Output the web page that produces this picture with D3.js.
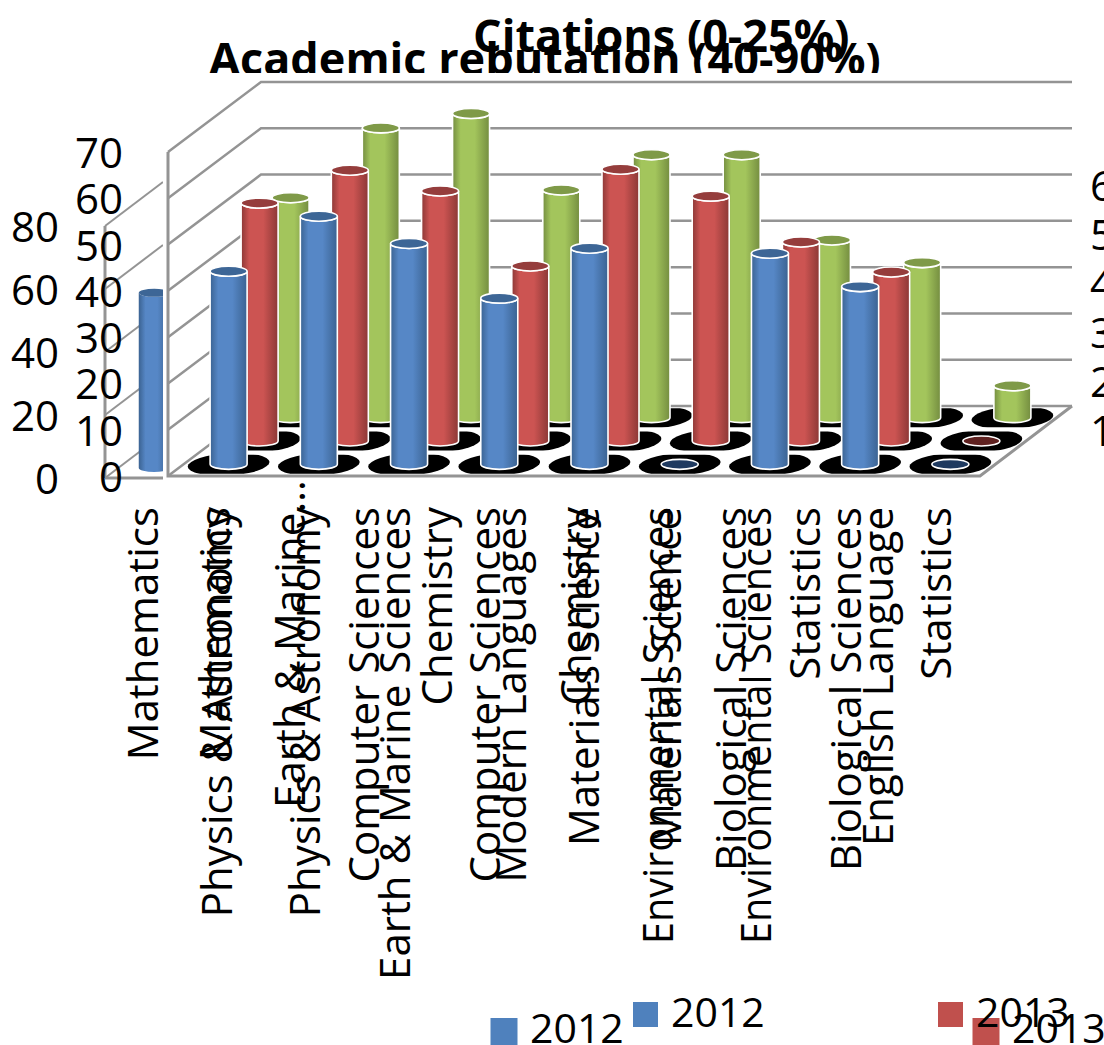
<!DOCTYPE html>
<html><head><meta charset="utf-8">
<style>
html,body{margin:0;padding:0;background:#fff;overflow:hidden}
text{font-family:"Open Sans",sans-serif;fill:#000}
</style>
<script src="https://cdn.jsdelivr.net/npm/d3@7/dist/d3.min.js"></script>
</head><body><svg id="c" width="1104" height="1045"></svg>
<script>
const mainCategories = ["Mathematics","Physics & Astronomy","Earth & Marine Sciences","Computer Sciences","Chemistry","Materials Science","Environmental Sciences","Biological Sciences","Statistics"];
const backCategories = ["Mathematics","Physics & Astronomy","Earth & Marine…","Computer Sciences","Chemistry","Modern Languages","Materials Science","Environmental Sciences","Biological Sciences","Statistics","English Language"];
const seriesNames = ["2012","2013","2014"];
const values2012 = [41.7,53.6,47.7,35.9,46.7,0,45.6,38.4,0];
const values2013 = [51.4,58.5,54,37.8,58.7,52.9,43,36.5,0];
const values2014 = [47.5,62.6,65.7,49.2,56.8,56.8,38.4,33.5,6.9];
const backValues2012 = [55.6];
const mainTicks = [0,10,20,30,40,50,60,70];
const backTicks = [0,20,40,60,80];
const rightTicks = [10,20,30,40,50,60];
const titleBack = "Citations (0-25%)";
const titleMain = "Academic rebutation (40-90%)";

const palette = {
 "2012":{edge:"#3b6392",mid:"#5687c6",top:"#3d6696",zero:"#1f3a60"},
 "2013":{edge:"#8c3836",mid:"#cc5452",top:"#953d3c",zero:"#5f2120"},
 "2014":{edge:"#748d40",mid:"#a3c55c",top:"#7f9a48",zero:"#4f6128"}
};
const gridColor="#949494";
const svg=d3.select("#c");
const defs=svg.append("defs");
seriesNames.forEach(s=>{
 const g=defs.append("linearGradient").attr("id","g"+s);
 [[0,palette[s].edge],[.22,palette[s].mid],[.6,palette[s].mid],[1,palette[s].edge]].forEach(([o,c])=>g.append("stop").attr("offset",o).attr("stop-color",c));
});
defs.append("clipPath").attr("id","clipBack").append("rect").attr("x",0).attr("y",0).attr("width",163).attr("height",1045);
defs.append("clipPath").attr("id","clipTitle").append("rect").attr("x",0).attr("y",0).attr("width",1104).attr("height",73);

function cyl(sel,cx,base,top,r,ry,s,outline){
 const p=sel.append("path")
  .attr("d",`M${cx-r},${top}V${base}A${r},${ry} 0 0 0 ${cx+r},${base}V${top}A${r},${ry} 0 0 1 ${cx-r},${top}Z`)
  .attr("fill",`url(#g${s})`);
 if(outline)p.attr("stroke","#fff").attr("stroke-width",1.6);
 const e=sel.append("ellipse").attr("cx",cx).attr("cy",top).attr("rx",r).attr("ry",ry).attr("fill",palette[s].top);
 if(outline)e.attr("stroke","#fff").attr("stroke-width",1.6);
}
function tickText(g){g.select(".domain").remove();g.selectAll("line").remove();g.selectAll("text").style("font-size","42px");}

/* ---------- back chart ---------- */
const xBack=d3.scaleBand().domain(backCategories).range([105,913.5]);
const yBack=d3.scaleLinear().domain([0,80]).range([478,226]);
const back=svg.append("g");
const bd={dx:58,dy:44};
back.append("g").selectAll("line").data(backTicks).join("line")
 .attr("x1",105).attr("y1",d=>yBack(d)).attr("x2",105+bd.dx).attr("y2",d=>yBack(d)-bd.dy)
 .attr("stroke",gridColor).attr("stroke-width",2);
back.append("line").attr("x1",105).attr("x2",105).attr("y1",yBack(80)).attr("y2",yBack(0)).attr("stroke",gridColor).attr("stroke-width",3);
back.append("line").attr("x1",105).attr("x2",163).attr("y1",yBack(0)).attr("y2",yBack(0)).attr("stroke",gridColor).attr("stroke-width",3);
const backBars=back.append("g").attr("clip-path","url(#clipBack)");
backValues2012.forEach((v,i)=>{
 const cx=xBack(backCategories[i])+xBack.bandwidth()/2+12.5;
 const zeroY=yBack(0)-10;
 cyl(backBars,cx,zeroY,zeroY-(yBack(0)-yBack(v)),15.5,4,"2012",false);
});
svg.append("g").attr("transform","translate(59,2)").call(d3.axisLeft(yBack).tickValues(backTicks).tickFormat(d3.format("d")).tickSize(0).tickPadding(0)).call(tickText);

/* ---------- main chart ---------- */
svg.append("rect").attr("x",163).attr("y",73).attr("width",941).attr("height",405).attr("fill","#fff");
const xMain=d3.scaleBand().domain(mainCategories).range([168,980]);
const yMain=d3.scaleLinear().domain([0,70]).range([476,152]);
const depth=d3.scaleBand().domain(seriesNames).range([0,1]);
const wall={dx:93,dy:70};
const main=svg.append("g");
main.append("path").attr("d",`M168,${yMain(70)}V${yMain(0)}H980L${168+904},${yMain(0)-wall.dy}`)
 .attr("fill","none").attr("stroke",gridColor).attr("stroke-width",3);
main.append("g").selectAll("path").data(mainTicks).join("path")
 .attr("d",d=>`M168,${yMain(d)}L${168+wall.dx},${yMain(d)-wall.dy}H1072`)
 .attr("fill","none").attr("stroke",gridColor).attr("stroke-width",2.5);
const valuesBySeries={"2012":values2012,"2013":values2013,"2014":values2014};
const pos=(cat,s)=>{
 const f=depth(s)+depth.bandwidth()/2;
 return {cx:xMain(cat)+xMain.bandwidth()/2+wall.dx*f,base:yMain(0)-wall.dy*f};
};
const floor=main.append("g");
seriesNames.slice().reverse().forEach(s=>{
 const rowY=pos(mainCategories[0],s).base;
 defs.append("clipPath").attr("id","row"+s).append("rect")
  .attr("x",0).attr("width",1104).attr("y",rowY-9.5).attr("height",19);
 floor.append("g").attr("clip-path",`url(#row${s})`).selectAll("ellipse").data(mainCategories).join("ellipse")
  .attr("transform",c=>{const p=pos(c,s);return `translate(${p.cx},${p.base}) skewX(-35)`;})
  .attr("rx",40).attr("ry",11.5).attr("fill","#000");
});
seriesNames.slice().reverse().forEach(s=>{
 const g=main.append("g");
 mainCategories.forEach((c,i)=>{
  const p=pos(c,s), v=valuesBySeries[s][i];
  if(v===0){
   g.append("ellipse").attr("cx",p.cx).attr("cy",p.base).attr("rx",18.5).attr("ry",5)
    .attr("fill",palette[s].zero).attr("stroke","#fff").attr("stroke-width",1.6);
  } else {
   cyl(g,p.cx,p.base,p.base-(yMain(0)-yMain(v)),18.5,5,s,true);
  }
 });
});
svg.append("g").attr("transform","translate(123,2)").call(d3.axisLeft(yMain).tickValues(mainTicks).tickFormat(d3.format("d")).tickSize(0).tickPadding(0)).call(tickText);

/* third clipped axis */
const yRight=d3.scaleLinear().domain([0,60]).range([479,185]);
svg.append("g").attr("transform","translate(1090,2)")
 .call(d3.axisRight(yRight).tickValues(rightTicks).tickFormat(d3.format("d")).tickSize(0).tickPadding(0)).call(tickText);

/* category labels */
const narrowLabel="Environmental Sciences";
function catAxis(scale){
 return g=>{
  g.call(d3.axisBottom(scale).tickSize(0));
  g.select(".domain").remove();
  g.selectAll("text").style("font-size","42px").attr("y",null).attr("dy",null)
   .attr("text-anchor","end")
   .attr("transform",d=>`translate(16.5,${String(d).endsWith("…")?-27:0}) rotate(-90)`)
   .filter(d=>d===narrowLabel).attr("textLength",437).attr("lengthAdjust","spacingAndGlyphs");
 };
}
svg.append("g").attr("transform","translate(0,507)").call(catAxis(xBack));
svg.append("g").attr("transform","translate(0,507)").call(catAxis(xMain));

/* titles */
svg.append("text").attr("x",473).attr("y",52).attr("font-weight",700).style("font-size","45px").text(titleBack);
svg.append("g").attr("clip-path","url(#clipTitle)").append("text").attr("x",209).attr("y",75).attr("font-weight",700).style("font-size","45px").text(titleMain);

/* legends */
const legendItems=[
 {s:"2012",x:490.5,y:1018,size:27,tx:530,ty:1043},
 {s:"2013",x:972.5,y:1018,size:27,tx:1012,ty:1043},
 {s:"2012",x:633,y:1002,size:25,tx:671,ty:1027},
 {s:"2013",x:938,y:1002,size:25,tx:976,ty:1027}
];
const lg=svg.append("g");
lg.selectAll("rect").data(legendItems).join("rect").attr("x",d=>d.x).attr("y",d=>d.y).attr("width",d=>d.size).attr("height",d=>d.size)
 .attr("fill",d=>d.s==="2012"?"#4f81bd":"#c0504d");
lg.selectAll("text").data(legendItems).join("text").attr("x",d=>d.tx).attr("y",d=>d.ty).style("font-size","41px").text(d=>d.s);
</script></body></html>
